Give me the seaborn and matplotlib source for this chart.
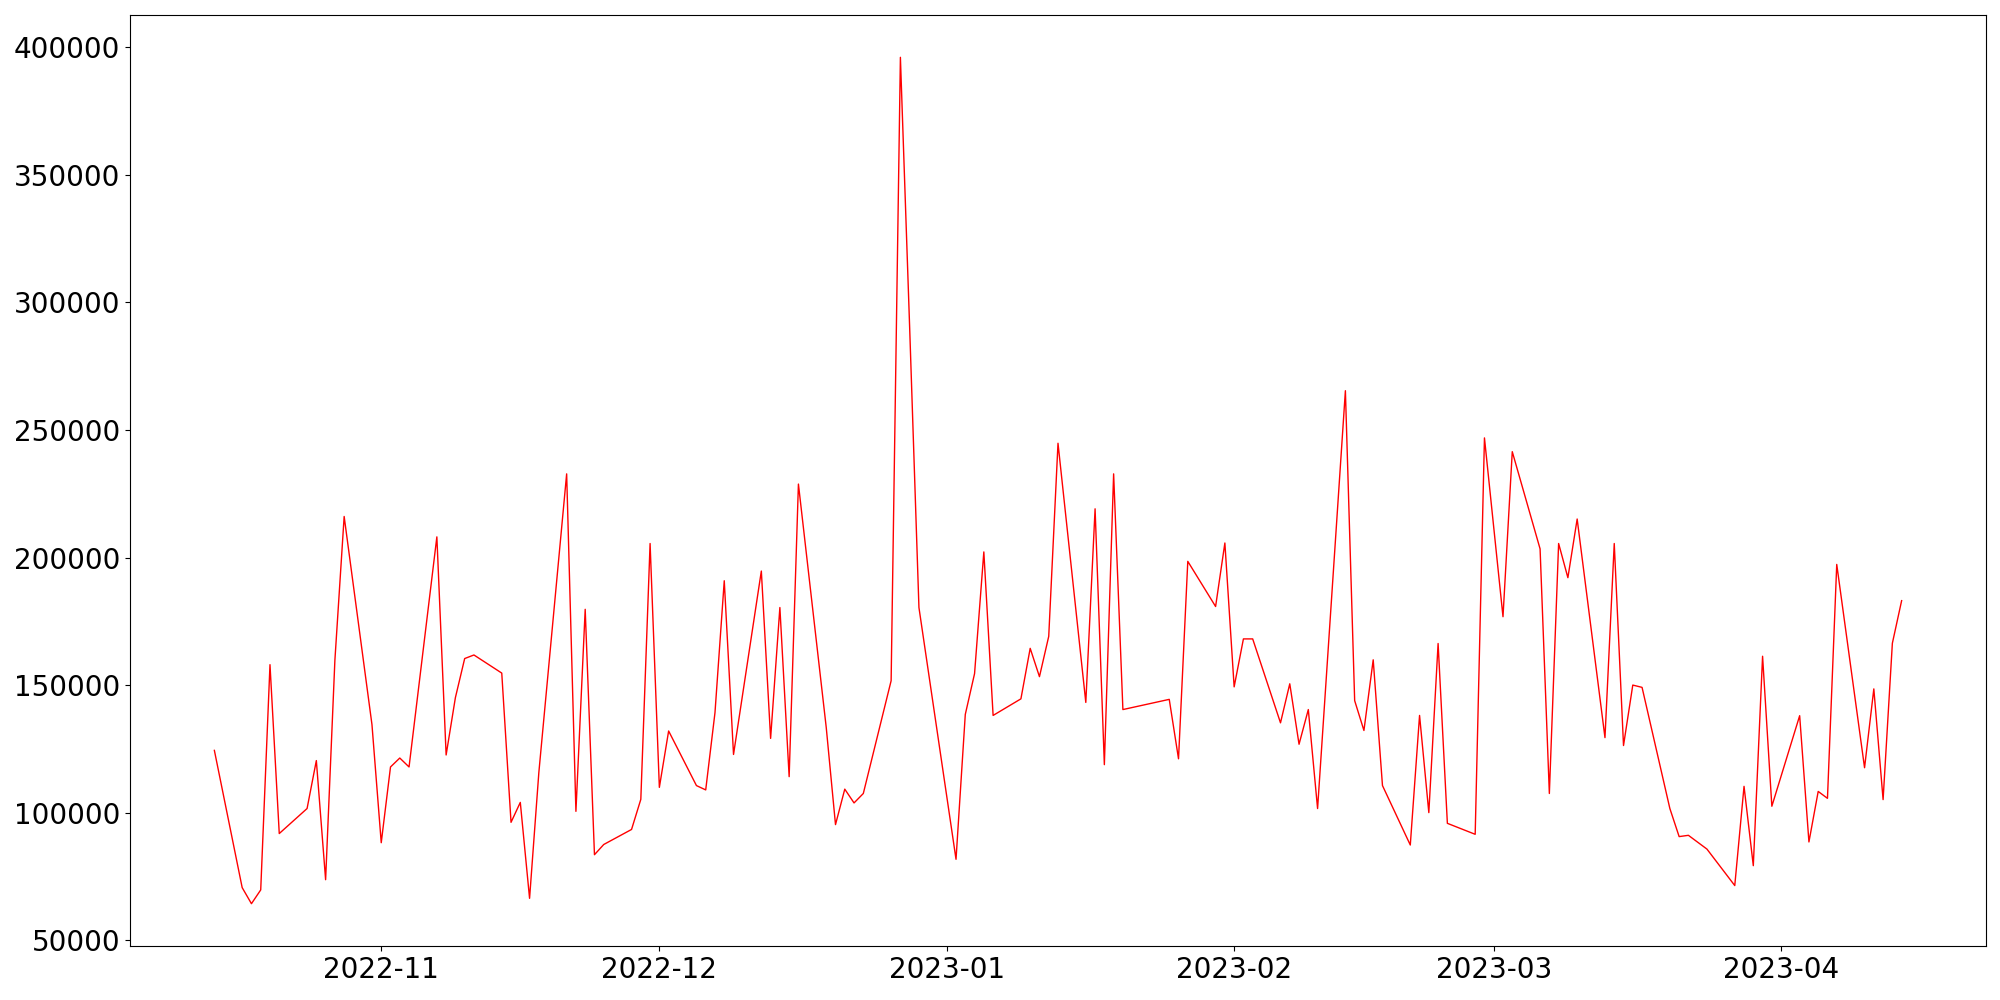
import pandas as pd
import numpy as np
import seaborn as sns
import matplotlib
matplotlib.use("Agg")
import matplotlib.pyplot as plt
import matplotlib.dates as mdates

# daily values (business days)
dates = [
    "2022-10-14", "2022-10-17", "2022-10-18", "2022-10-19", "2022-10-20", "2022-10-21",
    "2022-10-24", "2022-10-25", "2022-10-26", "2022-10-27", "2022-10-28",
    "2022-10-31", "2022-11-01", "2022-11-02", "2022-11-03", "2022-11-04",
    "2022-11-07", "2022-11-08", "2022-11-09", "2022-11-10", "2022-11-11",
    "2022-11-14", "2022-11-15", "2022-11-16", "2022-11-17", "2022-11-18",
    "2022-11-21", "2022-11-22", "2022-11-23", "2022-11-24", "2022-11-25",
    "2022-11-28", "2022-11-29", "2022-11-30", "2022-12-01", "2022-12-02",
    "2022-12-05", "2022-12-06", "2022-12-07", "2022-12-08", "2022-12-09",
    "2022-12-12", "2022-12-13", "2022-12-14", "2022-12-15", "2022-12-16",
    "2022-12-19", "2022-12-20", "2022-12-21", "2022-12-22", "2022-12-23",
    "2022-12-26", "2022-12-27", "2022-12-28", "2022-12-29",
    "2023-01-02", "2023-01-03", "2023-01-04", "2023-01-05", "2023-01-06",
    "2023-01-09", "2023-01-10", "2023-01-11", "2023-01-12", "2023-01-13",
    "2023-01-16", "2023-01-17", "2023-01-18", "2023-01-19", "2023-01-20",
    "2023-01-25", "2023-01-26", "2023-01-27",
    "2023-01-30", "2023-01-31", "2023-02-01", "2023-02-02", "2023-02-03",
    "2023-02-06", "2023-02-07", "2023-02-08", "2023-02-09", "2023-02-10",
    "2023-02-13", "2023-02-14", "2023-02-15", "2023-02-16", "2023-02-17",
    "2023-02-20", "2023-02-21", "2023-02-22", "2023-02-23", "2023-02-24",
    "2023-02-27", "2023-02-28", "2023-03-02", "2023-03-03",
    "2023-03-06", "2023-03-07", "2023-03-08", "2023-03-09", "2023-03-10",
    "2023-03-13", "2023-03-14", "2023-03-15", "2023-03-16", "2023-03-17",
    "2023-03-20", "2023-03-21", "2023-03-22", "2023-03-24",
    "2023-03-27", "2023-03-28", "2023-03-29", "2023-03-30", "2023-03-31",
    "2023-04-03", "2023-04-04", "2023-04-05", "2023-04-06", "2023-04-07",
    "2023-04-10", "2023-04-11", "2023-04-12", "2023-04-13", "2023-04-14",
]

values = [
    124400, 70600, 64300, 69700, 158000, 91800,
    101600, 120400, 73700, 159700, 216100,
    134500, 88200, 117900, 121400, 117900,
    208100, 122600, 145100, 160400, 161800,
    154700, 96200, 104000, 66400, 115700,
    232800, 100500, 179700, 83500, 87500,
    93400, 105200, 205500, 109900, 132000,
    110600, 108900, 139200, 190900, 122800,
    194700, 129100, 180400, 114100, 228800,
    133400, 95300, 109200, 103800, 107500,
    151700, 396100, 290000, 180400,
    81700, 138500, 154500, 202200, 138100,
    144600, 164400, 153300, 169100, 244800,
    143200, 219100, 118800, 232800, 140400,
    144400, 121100, 198500,
    180800, 205700, 149300, 168100, 168100,
    135200, 150500, 126800, 140400, 101600,
    265400, 143900, 132200, 159900, 110600,
    87300, 138100, 100000, 166300, 95800,
    91500, 246900, 176800, 241500,
    203400, 107500, 205500, 192100, 215100,
    129400, 205500, 126300, 150000, 149100,
    101600, 90600, 91100, 85700,
    71400, 110300, 79200, 161300, 102500,
    138000, 88500, 108300, 105600, 197300,
    117600, 148500, 105100, 166400, 183100,
]

df = pd.DataFrame({"date": pd.to_datetime(dates), "value": values})

fig, ax = plt.subplots(figsize=(20, 10), dpi=100)
sns.lineplot(data=df, x="date", y="value", color="red", linewidth=1, ax=ax)

ax.xaxis.set_major_locator(mdates.MonthLocator())
ax.xaxis.set_major_formatter(mdates.DateFormatter("%Y-%m"))
ax.tick_params(axis="both", labelsize=20)
ax.set_xlabel("")
ax.set_ylabel("")

plt.subplots_adjust(left=0.065, right=0.993, top=0.985, bottom=0.054)
plt.savefig("out.png")
